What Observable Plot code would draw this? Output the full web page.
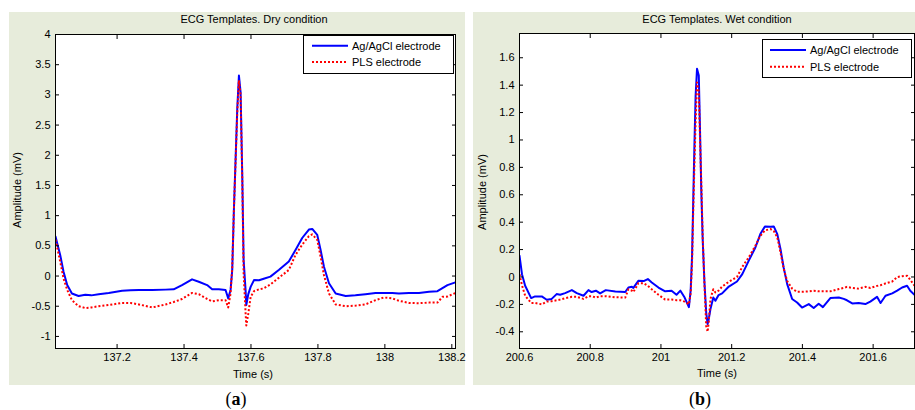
<!DOCTYPE html>
<html>
<head>
<meta charset="utf-8">
<script src="https://cdn.jsdelivr.net/npm/d3@7"></script>
<script src="https://cdn.jsdelivr.net/npm/@observablehq/plot@0.6"></script>
<style>
  body { margin: 0; background: #fff; font-family: "Liberation Sans", Arial, sans-serif; }
  #fig { position: relative; width: 915px; height: 410px; overflow: hidden; background: #fff; }
  .panel { position: absolute; top: 12px; height: 373px; background: #e7ecdb; }
  .panel > svg { position: absolute; left: 0; top: 0; overflow: visible; }
  .lbl { position: absolute; font-size: 11px; color: #000; white-space: nowrap; transform: translate(-50%, -50%); line-height: 1; }
  .ylab { transform: translate(-50%, -50%) rotate(-90deg); }
  .legend { position: absolute; }
  .cap { position: absolute; font-family: "Liberation Serif", "DejaVu Serif", serif; font-size: 18px; color: #000; transform: translate(-50%, -50%); line-height: 1; }
</style>
</head>
<body>
<div id="fig"></div>
<script>
// Series names and styles
const seriesNames = ["Ag/AgCl electrode", "PLS electrode"];
const seriesColors = ["#0000ff", "#ff0000"];

// (a) Dry condition: averaged ECG template, time in s, amplitude in mV
const timeDry = [
  137.016, 137.030, 137.040, 137.051, 137.065, 137.085, 137.105, 137.123, 137.145, 137.175,
  137.215, 137.240, 137.265, 137.305, 137.345, 137.369, 137.394, 137.424, 137.444, 137.469,
  137.484, 137.504, 137.524, 137.532, 137.539, 137.544, 137.549, 137.554, 137.559, 137.564,
  137.569, 137.574, 137.578, 137.584, 137.586, 137.592, 137.599, 137.609, 137.624, 137.638,
  137.658, 137.683, 137.713, 137.733, 137.753, 137.773, 137.783, 137.798, 137.808, 137.818,
  137.833, 137.853, 137.883, 137.912, 137.942, 137.972, 137.997, 138.022, 138.042, 138.072,
  138.102, 138.132, 138.157, 138.172, 138.187, 138.211
];
const agDry = [
  0.655, 0.35, 0.07, -0.15, -0.29, -0.33, -0.31, -0.32, -0.30, -0.28,
  -0.245, -0.235, -0.233, -0.233, -0.225, -0.22, -0.15, -0.055, -0.095, -0.15,
  -0.22, -0.22, -0.23, -0.37, -0.23, 0.1, 1.1, 1.93, 2.77, 3.32,
  3.04, 1.65, 0.27, -0.25, -0.48, -0.30, -0.18, -0.067, -0.07, -0.045,
  -0.01, 0.1, 0.24, 0.43, 0.63, 0.77, 0.78, 0.68, 0.43, 0.155,
  -0.12, -0.29, -0.33, -0.32, -0.30, -0.28, -0.28, -0.28, -0.29, -0.28,
  -0.28, -0.26, -0.25, -0.20, -0.15, -0.105
];
const plsDry = [
  0.60, 0.24, -0.04, -0.23, -0.40, -0.50, -0.53, -0.52, -0.50, -0.48,
  -0.445, -0.445, -0.47, -0.52, -0.47, -0.43, -0.38, -0.28, -0.30, -0.38,
  -0.42, -0.40, -0.40, -0.52, -0.29, 0.15, 1.1, 1.9, 2.7, 3.24,
  3.0, 1.6, 0.05, -0.62, -0.82, -0.62, -0.345, -0.25, -0.22, -0.205,
  -0.14, -0.03, 0.1, 0.35, 0.52, 0.66, 0.69, 0.6, 0.32, 0.017,
  -0.29, -0.47, -0.50, -0.49, -0.47, -0.40, -0.355, -0.37, -0.41, -0.445,
  -0.45, -0.44, -0.44, -0.345, -0.34, -0.28
];
const xTicksDry = [137.2, 137.4, 137.6, 137.8, 138, 138.2];
const yTicksDry = [-1, -0.5, 0, 0.5, 1, 1.5, 2, 2.5, 3, 3.5, 4];

// (b) Wet condition
const timeWet = [
  200.600, 200.607, 200.616, 200.633, 200.644, 200.663, 200.677, 200.691, 200.705, 200.715,
  200.729, 200.748, 200.762, 200.781, 200.795, 200.804, 200.816, 200.828, 200.844, 200.871,
  200.899, 200.908, 200.918, 200.922, 200.936, 200.951, 200.963, 200.974, 200.993, 201.012,
  201.030, 201.044, 201.055, 201.067, 201.079, 201.084, 201.088, 201.091, 201.095, 201.098,
  201.102, 201.107, 201.110, 201.114, 201.118, 201.123, 201.128, 201.132, 201.135, 201.140,
  201.148, 201.154, 201.163, 201.173, 201.192, 201.215, 201.230, 201.248, 201.267, 201.281,
  201.294, 201.310, 201.319, 201.329, 201.338, 201.347, 201.357, 201.371, 201.385, 201.399,
  201.418, 201.432, 201.446, 201.458, 201.479, 201.503, 201.517, 201.526, 201.541, 201.559,
  201.578, 201.592, 201.611, 201.621, 201.635, 201.654, 201.668, 201.682, 201.696, 201.705,
  201.717
];
const agWet = [
  0.155, 0.02, -0.064, -0.154, -0.142, -0.142, -0.166, -0.16, -0.125, -0.13,
  -0.118, -0.096, -0.118, -0.137, -0.096, -0.11, -0.10, -0.12, -0.096, -0.106,
  -0.11, -0.077, -0.072, -0.08, -0.028, -0.03, -0.015, -0.04, -0.077, -0.105,
  -0.10, -0.13, -0.10, -0.15, -0.22, -0.10, 0.155, 0.52, 1.0, 1.32,
  1.52, 1.47, 1.13, 0.64, 0.277, -0.04, -0.26, -0.344, -0.31, -0.234,
  -0.15, -0.174, -0.132, -0.12, -0.07, -0.033, 0.021, 0.118, 0.215, 0.313,
  0.369, 0.366, 0.369, 0.313, 0.204, 0.069, -0.052, -0.161, -0.186, -0.223,
  -0.198, -0.227, -0.196, -0.22, -0.154, -0.15, -0.16, -0.17, -0.193, -0.19,
  -0.198, -0.18, -0.145, -0.19, -0.137, -0.12, -0.10, -0.077, -0.064, -0.10,
  -0.13
];
const plsWet = [
  0.02, -0.06, -0.137, -0.19, -0.19, -0.2, -0.179, -0.177, -0.17, -0.165,
  -0.155, -0.145, -0.145, -0.16, -0.14, -0.14, -0.15, -0.14, -0.14, -0.148,
  -0.15, -0.09, -0.1, -0.11, -0.045, -0.045, -0.065, -0.09, -0.13, -0.165,
  -0.165, -0.17, -0.17, -0.18, -0.2, -0.12, 0.106, 0.45, 0.85, 1.13,
  1.42, 1.35, 1.05, 0.7, 0.3, -0.05, -0.36, -0.40, -0.33, -0.16,
  -0.09, -0.113, -0.1, -0.07, -0.035, 0.0, 0.074, 0.142, 0.228, 0.30,
  0.34, 0.35, 0.335, 0.29, 0.18, 0.06, -0.03, -0.085, -0.108, -0.108,
  -0.105, -0.10, -0.105, -0.105, -0.105, -0.088, -0.08, -0.072, -0.08, -0.085,
  -0.072, -0.08, -0.065, -0.06, -0.047, -0.033, 0.0, 0.005, 0.009, -0.02,
  -0.064
];
const xTicksWet = [200.6, 200.8, 201, 201.2, 201.4, 201.6];
const yTicksWet = [-0.4, -0.2, 0, 0.2, 0.4, 0.6, 0.8, 1, 1.2, 1.4, 1.6];

const fmt = d => String(d);
const blank = () => "";

function chart({t, series, xDomain, yDomain, xTicks, yTicks, width, height, margin}) {
  return Plot.plot({
    width, height,
    marginLeft: margin[3], marginRight: margin[1], marginTop: margin[0], marginBottom: margin[2],
    style: {background: "transparent", fontFamily: "'Liberation Sans', Arial, sans-serif", fontSize: "11px", color: "#000", overflow: "visible"},
    x: {domain: xDomain},
    y: {domain: yDomain},
    marks: [
      Plot.frame({fill: "#fff", stroke: "none"}),
      ...series.map((v, i) => Plot.lineY(v, {
        x: t,
        stroke: seriesColors[i],
        strokeWidth: 2,
        strokeDasharray: i === 1 ? "2,2" : null,
        strokeLinecap: i === 1 ? "butt" : "round",
        clip: true
      })),
      Plot.axisX(xTicks, {anchor: "bottom", tickSize: -4, tickPadding: 9, tickFormat: fmt, label: null}),
      Plot.axisX(xTicks, {anchor: "top", tickSize: -4, tickFormat: blank, label: null}),
      Plot.axisY(yTicks, {anchor: "left", tickSize: -4, tickPadding: 9, tickFormat: fmt, label: null}),
      Plot.axisY(yTicks, {anchor: "right", tickSize: -4, tickFormat: blank, label: null}),
      Plot.frame({stroke: "#000", strokeWidth: 1})
    ]
  });
}

function legend(w, h, x0, rows) {
  const ns = "http://www.w3.org/2000/svg";
  const svg = document.createElementNS(ns, "svg");
  svg.setAttribute("width", w);
  svg.setAttribute("height", h);
  const rect = document.createElementNS(ns, "rect");
  Object.entries({x: 0.5, y: 0.5, width: w - 1, height: h - 1, fill: "#fff", stroke: "#000"}).forEach(([k, v]) => rect.setAttribute(k, v));
  svg.appendChild(rect);
  seriesNames.forEach((name, i) => {
    const line = document.createElementNS(ns, "line");
    Object.entries({x1: x0, x2: x0 + 36, y1: rows[i], y2: rows[i], stroke: seriesColors[i], "stroke-width": 2}).forEach(([k, v]) => line.setAttribute(k, v));
    if (i === 1) line.setAttribute("stroke-dasharray", "2,2");
    svg.appendChild(line);
    const text = document.createElementNS(ns, "text");
    Object.entries({x: x0 + 40, y: rows[i], "dominant-baseline": "central", "font-size": 11, "font-family": "'Liberation Sans', Arial, sans-serif", fill: "#000"}).forEach(([k, v]) => text.setAttribute(k, v));
    text.textContent = name;
    svg.appendChild(text);
  });
  return svg;
}

function addLabel(parent, cls, text, x, y) {
  const d = document.createElement("div");
  d.className = cls;
  d.textContent = text;
  d.style.left = x + "px";
  d.style.top = y + "px";
  parent.appendChild(d);
  return d;
}

const fig = document.getElementById("fig");

// Panel (a)
const pa = document.createElement("div");
pa.className = "panel";
pa.style.left = "9px";
pa.style.width = "456px";
fig.appendChild(pa);
pa.appendChild(chart({
  t: timeDry, series: [agDry, plsDry],
  xDomain: [137.016, 138.211], yDomain: [-1.2, 4],
  xTicks: xTicksDry, yTicks: yTicksDry,
  width: 456, height: 373, margin: [22, 10, 37, 46]
}));
addLabel(pa, "lbl", "ECG Templates. Dry condition", 245, 7);
addLabel(pa, "lbl", "Time (s)", 244, 362);
addLabel(pa, "lbl ylab", "Amplitude (mV)", 8, 178);
const la = document.createElement("div");
la.className = "legend";
la.style.left = "294px"; la.style.top = "23px";
la.appendChild(legend(151, 39, 9, [10.7, 27]));
pa.appendChild(la);

// Panel (b)
const pb = document.createElement("div");
pb.className = "panel";
pb.style.left = "473px";
pb.style.width = "442px";
fig.appendChild(pb);
pb.appendChild(chart({
  t: timeWet, series: [agWet, plsWet],
  xDomain: [200.6, 201.717], yDomain: [-0.522, 1.777],
  xTicks: xTicksWet, yTicks: yTicksWet,
  width: 442, height: 373, margin: [21, 1, 37, 46]
}));
addLabel(pb, "lbl", "ECG Templates. Wet condition", 244, 7);
addLabel(pb, "lbl", "Time (s)", 244, 361);
addLabel(pb, "lbl ylab", "Amplitude (mV)", 8.7, 180);
const lb = document.createElement("div");
lb.className = "legend";
lb.style.left = "289px"; lb.style.top = "27px";
lb.appendChild(legend(150, 39, 8, [11, 27.7]));
pb.appendChild(lb);

// Sub-figure captions
const ca = document.createElement("div");
ca.className = "cap"; ca.style.left = "236px"; ca.style.top = "399px";
ca.innerHTML = "(<b>a</b>)";
fig.appendChild(ca);
const cb = document.createElement("div");
cb.className = "cap"; cb.style.left = "700px"; cb.style.top = "399px";
cb.innerHTML = "(<b>b</b>)";
fig.appendChild(cb);
</script>
</body>
</html>
